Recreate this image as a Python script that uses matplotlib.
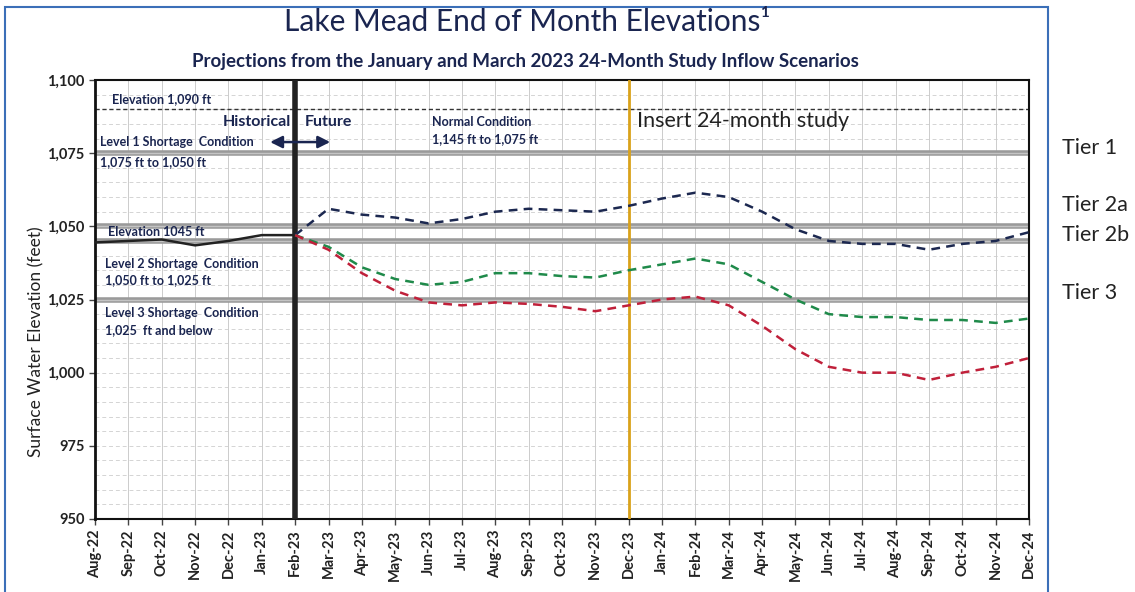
import matplotlib
matplotlib.use("Agg")
import matplotlib.pyplot as plt
from matplotlib.patches import Rectangle

plt.rcParams['font.family'] = ['Lato', 'DejaVu Sans']

months = ["Aug-22", "Sep-22", "Oct-22", "Nov-22", "Dec-22", "Jan-23", "Feb-23",
          "Mar-23", "Apr-23", "May-23", "Jun-23", "Jul-23", "Aug-23", "Sep-23",
          "Oct-23", "Nov-23", "Dec-23", "Jan-24", "Feb-24", "Mar-24", "Apr-24",
          "May-24", "Jun-24", "Jul-24", "Aug-24", "Sep-24", "Oct-24", "Nov-24",
          "Dec-24"]

# historical Aug-22 .. Feb-23
historical = [1044.5, 1045, 1045.5, 1043.5, 1045, 1047, 1047]
# projections Feb-23 .. Dec-24
high = [1047, 1056, 1054, 1053, 1051, 1052.5, 1055, 1056, 1055.5, 1055, 1057,
        1059.5, 1061.5, 1060, 1055, 1049, 1045, 1044, 1044, 1042, 1044, 1045, 1048]
mid = [1047, 1043, 1036, 1032, 1030, 1031, 1034, 1034, 1033, 1032.5, 1035,
       1037, 1039, 1037, 1031, 1025, 1020, 1019, 1019, 1018, 1018, 1017, 1018.5]
low = [1047, 1042, 1034, 1028, 1024, 1023, 1024, 1023.5, 1022.5, 1021, 1023,
       1025, 1026, 1023, 1016, 1008, 1002, 1000, 1000, 997.5, 1000, 1002, 1005]

tiers = [1075, 1050, 1045, 1025]
tier_labels = [("Tier 1", 148), ("Tier 2a", 205), ("Tier 2b", 235), ("Tier 3", 293)]

navy = "#1a2550"
fig = plt.figure(figsize=(11.35, 5.92), dpi=100)
ax = fig.add_axes([95 / 1135, 1 - 519 / 592, (1029 - 95) / 1135, (519 - 80) / 592])

x_all = list(range(len(months)))
start = months.index("Feb-23")
x_proj = x_all[start:]

# grid
for v in range(955, 1100, 5):
    ax.axhline(v, color="#d4d4d4", lw=0.7, ls=(0, (4, 3)), zorder=1)
for i in x_all:
    ax.axvline(i, color="#cccccc", lw=0.7, zorder=1)

# tier lines
for t in tiers:
    ax.axhline(t, color="#9a9a9a", lw=4, zorder=2)
    ax.axhline(t, color="#c4c4c4", lw=1, zorder=2)
ax.axhline(1090, color="#333333", lw=1, ls=(0, (3, 2)), zorder=2)

ax.axvline(start, color="#222222", lw=4, zorder=3)
ax.axvline(months.index("Dec-23"), color="#d9a21b", lw=2, zorder=3)

ax.plot(x_all[:start + 1], historical, color="#222222", lw=1.8, zorder=4)
ax.plot(x_proj, high, color="#1c2850", lw=1.8, ls=(0, (3.5, 2.5)), zorder=4)
ax.plot(x_proj, mid, color="#1f8a4a", lw=1.8, ls=(0, (3.5, 2.5)), zorder=4)
ax.plot(x_proj, low, color="#c0203a", lw=1.8, ls=(0, (3.5, 2.5)), zorder=4)

ax.set_xlim(0, len(months) - 1)
ax.set_ylim(950, 1100)
ax.set_yticks(range(950, 1101, 25))
ax.set_yticklabels(["{:,}".format(v) for v in range(950, 1101, 25)],
                   fontsize=10.5, fontweight="bold", color="#222222")
ax.set_xticks(x_all)
ax.set_xticklabels(months, rotation=90, fontsize=10.5, fontweight="bold", color="#222222")
ax.tick_params(length=4, width=1, color="#444444")
for s in ax.spines.values():
    s.set_color("#111111")
    s.set_linewidth(1.5)
ax.spines["left"].set_linewidth(2)
ax.set_ylabel("Surface Water Elevation (feet)", fontsize=12.5, color="#222222")
ax.yaxis.set_label_coords(-0.054, 0.405)

# annotations
small = dict(fontsize=9, color=navy, fontweight="bold", zorder=5)
ax.text(0.5, 1093.6, "Elevation 1,090 ft", va="center", **small)
ax.text(0.15, 1078.8, "Level 1 Shortage  Condition", va="center", **small)
ax.text(0.15, 1071.8, "1,075 ft to 1,050 ft", va="center", **small)
ax.text(10.1, 1085.6, "Normal Condition", va="center", **small)
ax.text(10.1, 1079.8, "1,145 ft to 1,075 ft", va="center", **small)
ax.text(0.4, 1048.2, "Elevation 1045 ft", va="center", **small)
ax.text(0.3, 1037.3, "Level 2 Shortage  Condition", va="center", **small)
ax.text(0.3, 1031.5, "1,050 ft to 1,025 ft", va="center", **small)
ax.text(0.3, 1020.5, "Level 3 Shortage  Condition", va="center", **small)
ax.text(0.3, 1014.7, "1,025  ft and below", va="center", **small)
ax.text(start - 0.12, 1085.6, "Historical", ha="right", va="center", fontsize=11.5,
        fontweight="bold", color=navy, zorder=5)
ax.text(start + 0.3, 1085.6, "Future", ha="left", va="center", fontsize=11.5,
        fontweight="bold", color=navy, zorder=5)
for x_end in (5.25, 7.05):
    ax.annotate("", xy=(x_end, 1078.8), xytext=(start, 1078.8),
                arrowprops=dict(arrowstyle="-|>", color=navy, lw=1.8,
                                mutation_scale=18, shrinkA=0, shrinkB=0))
ax.text(16.25, 1086, "Insert 24-month study", va="center", fontsize=15.5,
        color="#222222", zorder=5)

fig.text(527 / 1135, 1 - 22 / 592, "Lake Mead End of Month Elevations\u00b9",
         ha="center", va="center", fontsize=21.5, color=navy)
fig.text(525 / 1135, 1 - 62 / 592,
         "Projections from the January and March 2023 24-Month Study Inflow Scenarios",
         ha="center", va="center", fontsize=13.5, fontweight="bold", color=navy)

for label, ypix in tier_labels:
    fig.text(1062 / 1135, 1 - ypix / 592, label, ha="left", va="center",
             fontsize=15.5, color="#222222")

fig.patches.append(Rectangle((5 / 1135, -0.02), (1048 - 5) / 1135, 1.02 - 7 / 592,
                             transform=fig.transFigure, fill=False,
                             edgecolor="#3b6fb8", lw=1.5))

fig.savefig("out.png", dpi=100)
